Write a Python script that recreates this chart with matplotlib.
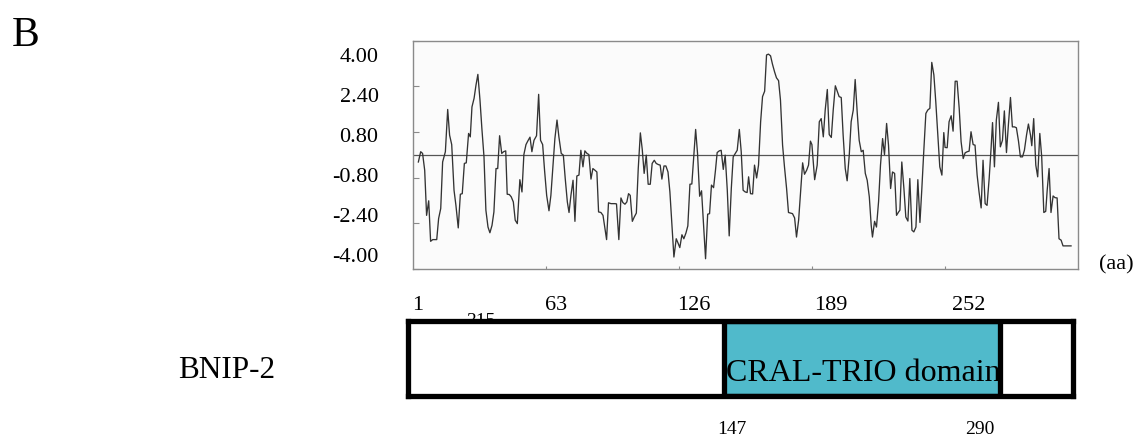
import matplotlib
matplotlib.use('Agg')
import matplotlib.pyplot as plt
import numpy as np

# ---------------- data ----------------
pos_a = [2.4, 3.5, 4.4, 5.4, 6.3, 7.3, 8.2, 9.2, 11.1, 12.0, 13.0, 13.9, 15.2, 16.3, 17.2, 18.2, 19.3, 20.2, 21.3, 22.3,
         23.2, 24.2, 25.1, 26.2, 27.0, 27.8, 28.8, 29.7, 30.6, 31.6, 32.5, 33.5, 34.4, 35.4, 36.3, 37.3, 38.2, 39.2, 40.0, 40.9,
         41.9, 42.8, 43.8, 44.5, 45.5, 46.4, 47.4, 48.3, 49.3, 50.5, 51.5, 52.4, 53.4, 54.3, 55.3, 56.2, 57.2, 58.4, 59.4, 60.3, 61.3]
hyd_a = [-0.25, 0.11, 0.05, -0.54, -2.12, -1.61, -3.03, -2.97, -2.97, -2.23, -1.88, -0.25, 0.11, 1.59, 0.69, 0.36, -1.24, -1.77, -2.56, -1.38,
         -1.36, -0.30, -0.28, 0.75, 0.63, 1.68, 1.98, 2.44, 2.82, 1.92, 0.92, -0.07, -1.94, -2.53, -2.73, -2.47, -2.00, -0.48, -0.48, 0.67,
         0.05, 0.11, 0.14, -1.38, -1.39, -1.47, -1.65, -2.29, -2.41, -0.87, -1.30, 0.01, 0.36, 0.49, 0.62, 0.11, 0.51, 0.67, 2.12, 0.51, 0.36]

pos_b = [62.2, 63.2, 64.3, 65.2, 66.2, 67.1, 68.1, 69.0, 70.1, 71.1, 72.0, 73.0, 73.8, 74.7, 75.7, 76.6, 77.5, 78.5, 79.4, 80.4,
         81.3, 82.3, 83.2, 84.2, 85.1, 86.1, 87.0, 87.8, 88.9, 89.9, 90.8, 91.6, 92.5, 93.7, 94.6, 95.6, 96.3, 97.4, 98.4, 99.3,
         100.3, 101.2, 102.0, 102.8, 103.8, 104.7, 105.7, 106.6, 107.6, 108.5, 109.4, 110.4, 111.3, 112.3, 113.2, 114.2, 115.1, 116.1, 117.0, 117.8,
         118.8, 119.7, 120.7, 121.6, 122.6, 123.5, 124.6]
hyd_b = [-0.54, -1.42, -1.96, -1.42, -0.36, 0.57, 1.22, 0.63, 0.05, -0.01, -0.83, -1.65, -2.02, -1.42, -0.89, -2.33, -0.74, -0.71, 0.16, -0.42,
         0.14, 0.05, 0.01, -0.85, -0.48, -0.54, -0.60, -2.00, -2.02, -2.12, -2.58, -2.97, -1.68, -1.71, -1.71, -1.71, -1.72, -2.97, -1.51, -1.67,
         -1.73, -1.65, -1.36, -1.42, -2.33, -2.18, -2.04, -0.48, 0.77, 0.19, -0.65, -0.01, -1.03, -1.03, -0.30, -0.19, -0.30, -0.34, -0.36, -0.85,
         -0.39, -0.39, -0.60, -1.30, -2.47, -3.58, -2.94]

pos_c = [125.4, 126.3, 127.3, 128.2, 129.2, 130.1, 131.1, 132.0, 133.0, 133.8, 134.7, 135.7, 136.6, 137.6, 138.5, 139.5, 140.4, 141.3, 142.3, 143.2,
         144.0, 145.0, 145.9, 146.9, 147.8, 148.8, 149.7, 150.7, 151.6, 152.6, 153.5, 154.5, 155.4, 156.3, 157.3, 158.2, 158.9, 159.8, 160.8, 161.7,
         162.7, 163.6, 164.6, 165.5, 166.5, 167.4, 168.3, 169.3, 170.2, 171.2, 172.1, 173.1, 174.0, 175.0, 175.9, 176.9, 177.8, 178.8, 179.7, 180.7,
         181.6, 182.6, 183.5, 184.5, 185.4, 186.4, 187.3, 188.2]
hyd_c = [-3.08, -3.25, -2.80, -2.94, -2.74, -2.49, -1.03, -1.02, 0.05, 0.89, 0.05, -1.45, -1.26, -2.53, -3.64, -2.08, -2.06, -1.06, -1.15, -0.54,
         0.08, 0.14, 0.16, -0.51, -0.01, -1.24, -2.84, -1.18, -0.07, 0.05, 0.16, 0.89, 0.11, -1.24, -1.30, -1.32, -0.77, -1.36, -1.37, -0.36,
         -0.81, -0.36, 1.16, 2.04, 2.23, 3.50, 3.53, 3.47, 3.18, 2.91, 2.70, 2.60, 1.92, 0.34, -0.42, -1.18, -2.02, -2.04, -2.06, -2.21,
         -2.88, -2.29, -1.36, -0.28, -0.68, -0.54, -0.36, 0.48]

pos_d = [188.9, 190.2, 191.4, 192.4, 193.3, 194.3, 195.2, 196.2, 197.1, 198.1, 199.0, 200.0, 200.9, 201.8, 202.8, 203.7, 204.7, 205.6, 206.6, 207.5,
         208.5, 209.4, 210.4, 211.3, 212.3, 213.2, 214.2, 215.1, 216.1, 217.0, 217.6, 218.6, 219.5, 220.5, 221.4, 222.4, 223.3, 224.3, 225.2, 226.2,
         227.1, 228.1, 229.0, 230.0, 230.6, 231.5, 232.5, 233.4, 234.4, 235.3, 236.3, 237.2, 238.2, 239.1, 240.1, 241.0, 241.9, 242.9, 243.8, 244.8,
         245.7, 246.7, 247.6, 248.6, 249.5, 250.5, 251.4]
hyd_d = [0.36, -0.87, -0.36, 1.16, 1.27, 0.63, 1.57, 2.29, 0.71, 0.61, 1.57, 2.42, 2.23, 2.04, 2.01, 0.69, -0.48, -0.91, -0.01, 1.16,
         1.57, 2.64, 1.45, 0.51, 0.11, 0.16, -0.65, -0.89, -1.47, -2.47, -2.88, -2.33, -2.53, -1.63, -0.36, 0.57, 0.01, 1.10, 0.34, -1.18,
         -0.60, -0.65, -2.12, -2.00, -1.94, -0.25, -1.18, -2.18, -2.32, -0.83, -2.64, -2.70, -2.53, -0.87, -2.37, -1.18, 0.11, 1.45, 1.57, 1.63,
         3.24, 2.80, 1.86, 0.69, -0.42, -0.71, 0.78]

pos_e = [252.0, 253.0, 253.9, 254.9, 255.8, 256.8, 257.7, 258.7, 259.6, 260.6, 261.5, 262.5, 263.4, 264.3, 265.3, 266.2, 267.2, 268.1, 269.1, 270.0,
         271.0, 271.9, 272.9, 273.8, 274.5, 275.4, 276.3, 277.3, 278.2, 279.2, 280.1, 281.1, 282.0, 283.0, 283.9, 284.9, 285.8, 286.8, 287.7, 288.7,
         289.6, 290.6, 291.5, 292.5, 293.1, 294.0, 295.0, 295.9, 296.9, 297.8, 298.8, 299.7, 300.4, 301.3, 302.2, 303.2, 304.1, 305.1, 306.0, 307.0,
         307.9, 311.7]
hyd_e = [0.26, 0.25, 1.16, 1.37, 0.83, 2.58, 2.58, 1.63, 0.46, -0.13, 0.07, 0.11, 0.13, 0.81, 0.36, 0.34, -0.71, -1.30, -1.86, -0.19,
         -1.71, -1.77, -0.83, 0.22, 1.13, -0.42, 1.22, 1.84, 0.28, 0.51, 1.54, 0.08, 1.04, 2.01, 0.98, 0.98, 0.95, 0.48, -0.07, -0.07,
         0.16, 0.69, 1.08, 0.69, 0.32, 1.27, -0.36, -0.77, 0.75, -0.07, -2.02, -1.98, -1.24, -0.48, -2.02, -1.44, -1.50, -1.51, -2.94, -2.99,
         -3.19, -3.19]

y_ticks = [-4.0, -2.4, -0.8, 0.8, 2.4, 4.0]
y_tick_labels = ['4.00', '2.40', '0.80', '-0.80', '-2.40', '-4.00']
x_ticks = [63, 126, 189, 252]
x_tick_labels = ['1', '63', '126', '189', '252']
protein_name = 'BNIP-2'
domain_name = 'CRAL-TRIO domain'
domain_start = 147
domain_end = 290

# ---------------- figure ----------------
plt.rcParams['font.family'] = ['Liberation Serif', 'DejaVu Serif']
W, H = 1137, 439
fig = plt.figure(figsize=(W / 100, H / 100), dpi=100)
fig.patch.set_facecolor('white')


def fx(px):
    return px / W


def fy(py):
    return 1 - py / H


# hydropathy plot
ax = fig.add_axes([fx(413.3), fy(270.0), (1078 - 413.3) / W, (270.0 - 41.7) / H])
ax.set_facecolor('#fbfbfb')
x = np.concatenate([pos_a, pos_b, pos_c, pos_d, pos_e])
y = np.concatenate([hyd_a, hyd_b, hyd_c, hyd_d, hyd_e])
ax.plot(x, y, color='#333333', lw=0.95, zorder=3)
ax.axhline(0, color='#555555', lw=0.9, zorder=2)
ax.set_xlim(0, 315)
ax.set_ylim(-4, 4)
for s in ax.spines.values():
    s.set_color('#8a8a8a')
    s.set_linewidth(1.0)

ax.set_yticks(y_ticks)
ax.set_yticklabels([])
ax.tick_params(axis='y', which='major', direction='in', length=4, color='#8a8a8a', width=0.8)
ylab_pos = np.linspace(3.53, -3.48, len(y_tick_labels))
ax.set_yticks(ylab_pos, minor=True)
ax.set_yticklabels(y_tick_labels, minor=True)
ax.tick_params(axis='y', which='minor', length=0, pad=25, labelsize=16)

ax.set_xticks(x_ticks)
ax.set_xticklabels([])
ax.tick_params(axis='x', which='major', direction='in', length=2, color='#8a8a8a', width=0.8)
xlab_pos = np.linspace(2.2, 263.2, len(x_tick_labels))
ax.set_xticks(xlab_pos, minor=True)
ax.set_xticklabels(x_tick_labels, minor=True)
ax.tick_params(axis='x', which='minor', length=0, pad=19, labelsize=16)

# texts
fig.text(fx(26), fy(36), 'B', fontsize=30, ha='center', va='center')
fig.text(fx(1116), fy(265), '(aa)', fontsize=16, ha='center', va='center')
fig.text(fx(227), fy(370), protein_name, fontsize=22.5, ha='center', va='center')
fig.text(fx(481), fy(322), '315', fontsize=14, ha='center', va='center', zorder=1)

# domain schematic
sax = fig.add_axes([fx(407.5), fy(396.5), (1072.5 - 407.5) / W, (396.5 - 321.5) / H])
sax.set_zorder(5)
sax.set_facecolor('white')
sax.set_xlim(-17.2, 327.8)
sax.set_ylim(0, 1)
sax.set_xticks([])
sax.set_yticks([])
for s in sax.spines.values():
    s.set_color('black')
    s.set_linewidth(3.8)
sax.axvspan(domain_start, domain_end, facecolor='#50bacb', edgecolor='black', lw=3.8)
sax.text((domain_start + domain_end) / 2 + 1, 0.31, domain_name, fontsize=23, ha='center', va='center')
sax.annotate(str(domain_start), xy=(domain_start, 0), xycoords=('data', 'axes fraction'),
             xytext=(6, -23.5), textcoords='offset points', ha='center', va='center', fontsize=14,
             annotation_clip=False)
sax.annotate(str(domain_end), xy=(domain_end, 0), xycoords=('data', 'axes fraction'),
             xytext=(-14, -23.5), textcoords='offset points', ha='center', va='center', fontsize=14,
             annotation_clip=False)

fig.savefig('out.png', dpi=100)
